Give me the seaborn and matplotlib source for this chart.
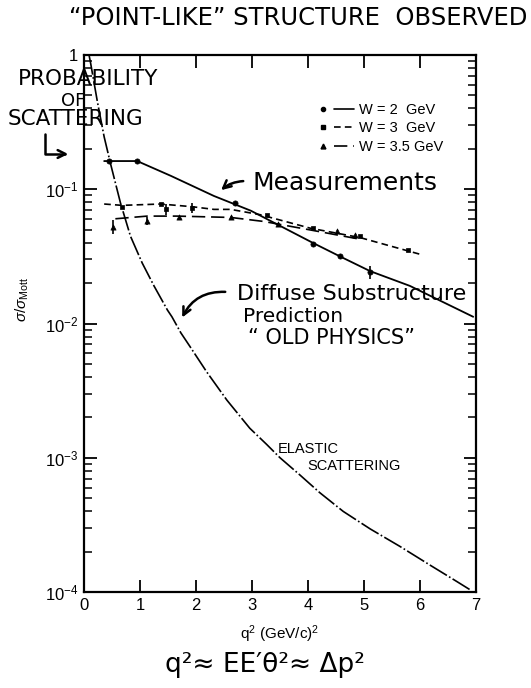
import numpy as np
import pandas as pd
import matplotlib
matplotlib.use("Agg")
import matplotlib.pyplot as plt
import seaborn as sns
from matplotlib.legend_handler import HandlerTuple
from matplotlib.lines import Line2D
from matplotlib.patches import FancyArrowPatch
from matplotlib.ticker import FixedLocator, FixedFormatter, LogLocator, NullFormatter

# elastic scattering curve (dash-dot), values as log10(sigma/sigma_Mott)
elastic_q2 = [0.09, 0.12, 0.24, 0.36, 0.48, 0.65, 0.83, 1.04, 1.25, 1.49, 1.57, 1.73,
              1.89, 2.19, 2.55, 2.96, 3.26, 3.50, 3.86, 4.21, 4.63, 5.11, 5.64, 6.18,
              6.65, 6.92]
elastic_log = [0.0, -0.065, -0.35, -0.61, -0.82, -1.10, -1.35, -1.55, -1.72, -1.90, -1.95,
               -2.07, -2.17, -2.36, -2.57, -2.78, -2.90, -3.0, -3.13, -3.26, -3.40, -3.53,
               -3.66, -3.80, -3.92, -3.99]

# fitted curves through the measurements
w2_curve_q2 = [0.36, 0.95, 1.55, 2.32, 2.98, 4.09, 4.57, 5.11, 5.82, 6.95]
w2_curve_log = [-0.79, -0.79, -0.90, -1.05, -1.16, -1.40, -1.50, -1.61, -1.72, -1.95]
w3_curve_q2 = [0.36, 0.68, 1.37, 1.93, 2.32, 2.62, 3.15, 4.04, 4.93, 6.05]
w3_curve_log = [-1.11, -1.12, -1.11, -1.13, -1.15, -1.15, -1.19, -1.29, -1.36, -1.49]
w35_curve_q2 = [0.56, 1.13, 1.66, 2.62, 3.21, 4.0, 4.9]
w35_curve_log = [-1.22, -1.20, -1.20, -1.21, -1.24, -1.30, -1.37]

# measured points (log10) and error half-widths (log10 units)
w2_q2 = [0.45, 0.95, 2.70, 4.09, 4.57, 5.11]
w2_log = [-0.79, -0.79, -1.10, -1.41, -1.50, -1.62]
w2_err = [0.0, 0.0, 0.0, 0.0, 0.0, 0.05]
w3_q2 = [0.68, 1.37, 1.46, 1.93, 3.27, 4.09, 4.93, 5.79]
w3_log = [-1.13, -1.11, -1.15, -1.14, -1.19, -1.29, -1.35, -1.45]
w3_err = [0.0, 0.0, 0.04, 0.04, 0.0, 0.0, 0.0, 0.0]
w35_q2 = [0.51, 1.13, 1.70, 2.62, 3.47, 4.51, 4.84]
w35_log = [-1.28, -1.24, -1.21, -1.21, -1.26, -1.31, -1.34]
w35_err = [0.05, 0.03, 0.0, 0.0, 0.0, 0.0, 0.0]

legend_labels = ["W = 2  GeV", "W = 3  GeV", "W = 3.5 GeV"]
y_ticks = [1e-4, 1e-3, 1e-2, 1e-1, 1]
y_ticklabels = [r"$10^{-4}$", r"$10^{-3}$", r"$10^{-2}$", r"$10^{-1}$", "1"]

sns.set_theme(style="ticks")
plt.rcParams["font.family"] = ["Liberation Sans", "DejaVu Sans"]
plt.rcParams["mathtext.fontset"] = "custom"
plt.rcParams["mathtext.rm"] = "Liberation Sans"
plt.rcParams["mathtext.it"] = "Liberation Sans:italic"
for key in ["text.color", "axes.labelcolor", "xtick.color", "ytick.color", "axes.edgecolor"]:
    plt.rcParams[key] = "black"
HAND = ["DejaVu Sans"]

W, H = 531, 688
fig = plt.figure(figsize=(W / 100, H / 100), dpi=100)
ax = fig.add_axes([84 / W, (H - 592) / H, 392 / W, 537 / H])


def fp(x, y):
    # figure fraction from top-left pixel coords
    return x / W, 1 - y / H


def to_df(q2, logs):
    return pd.DataFrame({"q2": q2, "sig": 10 ** np.array(logs)})


black = "black"
sns.lineplot(data=to_df(elastic_q2, elastic_log), x="q2", y="sig", ax=ax, color=black,
             lw=1.2, sort=False, estimator=None)
ax.lines[-1].set_dashes([12, 1.5, 1, 1.5])
sns.lineplot(data=to_df(w2_curve_q2, w2_curve_log), x="q2", y="sig", ax=ax, color=black,
             lw=1.3, sort=False, estimator=None)
sns.lineplot(data=to_df(w3_curve_q2, w3_curve_log), x="q2", y="sig", ax=ax, color=black,
             lw=1.2, sort=False, estimator=None)
ax.lines[-1].set_dashes([4, 2.5])
sns.lineplot(data=to_df(w35_curve_q2, w35_curve_log), x="q2", y="sig", ax=ax, color=black,
             lw=1.2, sort=False, estimator=None)
ax.lines[-1].set_dashes([8, 3.5])

for q2, logs, err, mk, ms in [(w2_q2, w2_log, w2_err, "o", 14),
                              (w3_q2, w3_log, w3_err, "s", 12),
                              (w35_q2, w35_log, w35_err, "^", 14)]:
    df = to_df(q2, logs)
    sns.scatterplot(data=df, x="q2", y="sig", ax=ax, marker=mk, s=ms, color=black,
                    edgecolor=black, linewidth=0.5, zorder=5)
    e = np.array(err)
    l = np.array(logs)
    lo = df["sig"] - 10 ** (l - e)
    hi = 10 ** (l + e) - df["sig"]
    ax.errorbar(df["q2"], df["sig"], yerr=[lo, hi], fmt="none", ecolor=black,
                elinewidth=1.2, capsize=0)

ax.set_yscale("log")
ax.set_xlim(0, 7)
ax.set_ylim(1e-4, 1)
ax.yaxis.set_major_locator(FixedLocator(y_ticks))
ax.yaxis.set_major_formatter(FixedFormatter(y_ticklabels))
ax.yaxis.set_minor_locator(LogLocator(base=10, subs=np.arange(2, 10)))
ax.yaxis.set_minor_formatter(NullFormatter())
ax.set_xticks(range(8))
ax.tick_params(which="both", direction="in", top=True, right=True, colors=black,
               labelsize=12, pad=4)
ax.tick_params(which="major", length=9, width=1.3)
ax.tick_params(which="minor", length=6, width=1.1)
for s in ax.spines.values():
    s.set_linewidth(1.6)
ax.set_xlabel(r"q$^2$ (GeV/c)$^2$", fontsize=11, labelpad=8)
ax.set_ylabel(r"$\sigma/\sigma_{\rm Mott}$", fontsize=11)
ax.yaxis.set_label_coords(-0.135, 0.545)

# legend: marker then line sample
handles = []
for mk, ms, dash in [("o", 3, None), ("s", 3, [4, 2.5]), ("^", 3.5, [8, 3.5])]:
    m = Line2D([], [], marker=mk, ms=ms, color=black, ls="none")
    ln = Line2D([], [], color=black, lw=1.2)
    if dash:
        ln.set_dashes(dash)
    handles.append((m, ln))
ax.legend(handles, legend_labels, handler_map={tuple: HandlerTuple(ndivide=None, pad=0.1)},
          loc="upper left", bbox_to_anchor=(0.55, 0.935), frameon=False, fontsize=10.5,
          handlelength=2.8, handletextpad=0.35, labelspacing=0.3)

# hand-written annotations
fig.text(*fp(298, 18), "\u201cPOINT-LIKE\u201d STRUCTURE  OBSERVED", family=HAND,
         fontsize=17.5, ha="center", va="center")
fig.text(*fp(88, 79), "PROBABILITY", family=HAND, fontsize=15.5, ha="center", va="center")
fig.text(*fp(73, 101), "OF", family=HAND, fontsize=13, ha="center", va="center")
fig.text(*fp(75, 119), "SCATTERING", family=HAND, fontsize=15.5, ha="center", va="center")
fig.text(*fp(345, 183), "Measurements", family=HAND, fontsize=18, ha="center", va="center")
fig.text(*fp(352, 294), "Diffuse Substructure", family=HAND, fontsize=16, ha="center",
         va="center")
fig.text(*fp(293, 317), "Prediction", family=HAND, fontsize=14.5, ha="center", va="center")
fig.text(*fp(332, 338), "\u201c OLD PHYSICS\u201d", family=HAND, fontsize=15, ha="center",
         va="center")
fig.text(*fp(278, 449), "ELASTIC", fontsize=10.5, ha="left", va="center")
fig.text(*fp(307, 466), "SCATTERING", fontsize=10.5, ha="left", va="center")
fig.text(*fp(265, 665), "q\u00b2\u2248 EE\u2032\u03b8\u00b2\u2248 \u0394p\u00b2", family=HAND,
         fontsize=19, ha="center", va="center")

arrow = dict(arrowstyle="->", color=black, lw=1.8, mutation_scale=14)
fig.add_artist(FancyArrowPatch(fp(45, 131), fp(71, 154), transform=fig.transFigure,
                               connectionstyle="angle,angleA=90,angleB=0,rad=0", **arrow))
fig.add_artist(FancyArrowPatch(fp(246, 181), fp(219, 192), transform=fig.transFigure,
                               connectionstyle="arc3,rad=0.2", **arrow))
fig.add_artist(FancyArrowPatch(fp(228, 292), fp(181, 320), transform=fig.transFigure,
                               connectionstyle="arc3,rad=0.35", **arrow))

fig.savefig("out.png", dpi=100)
